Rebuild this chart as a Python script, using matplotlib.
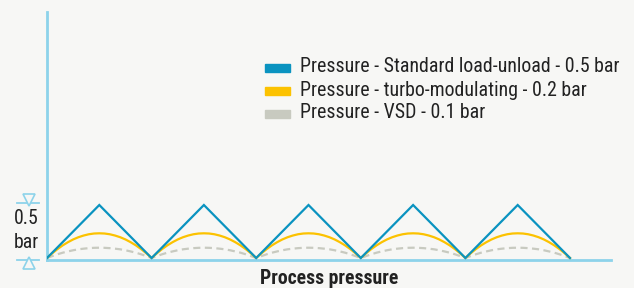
import matplotlib
matplotlib.use("Agg")
import matplotlib.pyplot as plt

FONT = ["Roboto Condensed", "DejaVu Sans"]

# ---- data ----
cycles = [0, 1, 2, 3, 4]
profile_t = [0.0, 0.05, 0.1, 0.15, 0.2, 0.25, 0.3, 0.35, 0.4, 0.45, 0.5,
             0.55, 0.6, 0.65, 0.7, 0.75, 0.8, 0.85, 0.9, 0.95, 1.0]
standard_peak = 0.5
turbo_profile = [0.0, 0.044, 0.084, 0.119, 0.149, 0.175, 0.196, 0.212, 0.224, 0.231, 0.233,
                 0.231, 0.224, 0.212, 0.196, 0.175, 0.149, 0.119, 0.084, 0.044, 0.0]
vsd_profile = [0.0, 0.018, 0.035, 0.050, 0.062, 0.073, 0.082, 0.088, 0.093, 0.096, 0.097,
               0.096, 0.093, 0.088, 0.082, 0.073, 0.062, 0.050, 0.035, 0.018, 0.0]
labels = ["Pressure - Standard load-unload - 0.5 bar",
          "Pressure - turbo-modulating - 0.2 bar",
          "Pressure - VSD - 0.1 bar"]
xlabel = "Process pressure"

BG = "#f7f7f5"
BLUE = "#0a93c0"
YELLOW = "#fcc200"
GRAY = "#c8cac0"
AXC = "#8dd3ea"
TXT = "#222222"

W, H = 634, 288
fig = plt.figure(figsize=(W / 100, H / 100), dpi=100, facecolor=BG)
x0, x1, ytop, ybot = 47, 611, 12, 259.5
ax = fig.add_axes([x0 / W, (H - ybot) / H, (x1 - x0) / W, (ybot - ytop) / H])
ax.set_facecolor(BG)
px_per_cycle = (570 - 47) / 5
px_per_bar = 106
ax.set_xlim(0, (x1 - x0) / px_per_cycle)
y_lo = -(ybot - 258) / px_per_bar
ax.set_ylim(y_lo, y_lo + (ybot - ytop) / px_per_bar)

# build series
bx, by, tx, ty, vx, vy = [], [], [], [], [], []
for c in cycles:
    bx += [c, c + 0.5, c + 1]
    by += [0, standard_peak, 0]
    tx += [c + t for t in profile_t]
    ty += turbo_profile
    vx += [c + t for t in profile_t]
    vy += vsd_profile

ax.plot(vx, vy, color=GRAY, lw=1.6, dashes=(3.2, 2), zorder=2)
ax.plot(tx, ty, color=YELLOW, lw=1.6, zorder=3)
ax.plot(bx, by, color=BLUE, lw=1.6, zorder=4, solid_joinstyle="miter")

for s in ["top", "right"]:
    ax.spines[s].set_visible(False)
for s in ["left", "bottom"]:
    ax.spines[s].set_color(AXC)
    ax.spines[s].set_linewidth(2)
ax.set_xticks([])
ax.set_yticks([])

# dimension markers
mx = -(47 - 29) / px_per_cycle
l0, l1 = -(47 - 17) / px_per_cycle, -(47 - 39) / px_per_cycle
ytopline = (258 - 203) / px_per_bar
ax.plot([l0, l1], [ytopline, ytopline], color=AXC, lw=1.3, clip_on=False)
ax.plot([mx], [ytopline + 3.5 / px_per_bar], marker="v", ms=8, mfc=BG, mec=AXC, mew=1.2, clip_on=False)
ybotline = (258 - 259.5) / px_per_bar
ax.plot([l0, l1], [ybotline, ybotline], color=AXC, lw=1.3, clip_on=False)
ax.plot([mx], [ybotline - 3.5 / px_per_bar], marker="^", ms=8, mfc=BG, mec=AXC, mew=1.2, clip_on=False)

fig.text(26 / W, 1 - 219 / H, "0.5", ha="center", va="center", fontsize=14.2, color=TXT, family=FONT)
fig.text(26 / W, 1 - 243 / H, "bar", ha="center", va="center", fontsize=14.2, color=TXT, family=FONT)

# legend
colors = [BLUE, YELLOW, GRAY]
for i, (lab, col) in enumerate(zip(labels, colors)):
    yc = 68 + i * 23
    fig.patches.append(plt.Rectangle((265 / W, 1 - (yc + 4) / H), 25 / W, 8 / H,
                                     transform=fig.transFigure, color=col))
    fig.text(300 / W, 1 - (yc - 1) / H, lab, ha="left", va="center", fontsize=14.3, color=TXT, family=FONT)

fig.text(329 / W, 1 - 278 / H, xlabel, ha="center", va="center", fontsize=14.2, fontweight="bold",
         color=TXT, family=FONT)

fig.savefig("out.png", dpi=100, facecolor=BG)
